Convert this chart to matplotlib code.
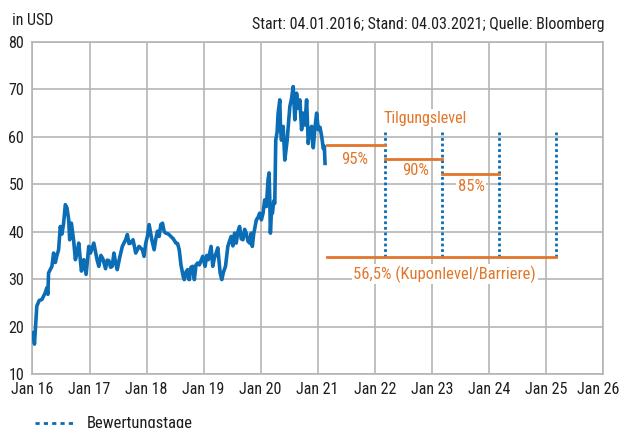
import matplotlib.pyplot as plt
from matplotlib.transforms import ScaledTranslation
# Import modules.

plt.rcParams['font.family'] = ['Roboto Condensed', 'Archivo Narrow', 'DejaVu Sans']

years = [2016.01, 2016.035, 2016.076, 2016.118, 2016.165, 2016.223, 2016.253, 2016.270, 2016.282, 2016.341,
         2016.370, 2016.400, 2016.429, 2016.458, 2016.488, 2016.517, 2016.546, 2016.576, 2016.605, 2016.635,
         2016.652, 2016.682, 2016.723, 2016.752, 2016.781, 2016.811, 2016.840, 2016.858, 2016.899, 2016.940,
         2016.987, 2017.016, 2017.075, 2017.105, 2017.134, 2017.163, 2017.199, 2017.234, 2017.281, 2017.310,
         2017.340, 2017.369, 2017.398, 2017.428, 2017.457, 2017.486, 2017.528, 2017.575, 2017.633, 2017.663,
         2017.692, 2017.721, 2017.763, 2017.810, 2017.868, 2017.927, 2017.956, 2017.986, 2018.015, 2018.045,
         2018.074, 2018.092, 2018.133, 2018.162, 2018.191, 2018.221, 2018.250, 2018.280, 2018.309, 2018.338,
         2018.385, 2018.426, 2018.468, 2018.515, 2018.544, 2018.573, 2018.603, 2018.620, 2018.644, 2018.661,
         2018.691, 2018.720, 2018.738, 2018.750, 2018.779, 2018.808, 2018.838, 2018.867, 2018.896, 2018.926,
         2018.985, 2019.026, 2019.055, 2019.084, 2019.131, 2019.161, 2019.190, 2019.220, 2019.249, 2019.278,
         2019.290, 2019.319, 2019.349, 2019.384, 2019.425, 2019.454, 2019.484, 2019.513, 2019.543, 2019.572,
         2019.601, 2019.631, 2019.660, 2019.690, 2019.719, 2019.748, 2019.778, 2019.807, 2019.836, 2019.854,
         2019.878, 2019.925, 2019.954, 2019.983, 2020.013, 2020.042, 2020.071, 2020.101, 2020.130, 2020.148,
         2020.160, 2020.171, 2020.189, 2020.207, 2020.230, 2020.248, 2020.265, 2020.289, 2020.306, 2020.336,
         2020.348, 2020.365, 2020.395, 2020.424, 2020.442, 2020.465, 2020.489, 2020.512, 2020.541, 2020.571,
         2020.600, 2020.630, 2020.659, 2020.688, 2020.718, 2020.747, 2020.776, 2020.806, 2020.835, 2020.865,
         2020.894, 2020.923, 2020.953, 2020.982, 2021.011, 2021.041, 2021.070, 2021.099, 2021.117, 2021.129]
prices = [18.7, 16.3, 24.3, 25.5, 25.7, 27.1, 28.2, 26.8, 31.3, 32.7,
          35.5, 33.5, 35.0, 36.2, 41.1, 39.5, 41.8, 45.7, 45.0, 42.5,
          38.3, 41.8, 38.0, 34.1, 35.5, 37.6, 34.0, 31.7, 34.1, 31.0,
          36.9, 35.5, 37.6, 35.8, 34.0, 32.7, 35.0, 34.3, 32.2, 34.0,
          33.9, 32.5, 32.7, 35.5, 33.5, 32.0, 34.5, 36.9, 38.3, 39.4,
          37.5, 37.6, 38.3, 35.5, 36.9, 36.2, 34.8, 37.6, 39.0, 41.5,
          39.5, 38.3, 36.2, 38.5, 40.1, 39.0, 41.5, 41.8, 40.0, 39.7,
          39.5, 39.0, 38.5, 37.6, 37.5, 36.2, 33.0, 32.0, 30.5, 29.9,
          31.5, 32.0, 30.0, 29.9, 32.5, 32.7, 29.9, 33.0, 33.4, 33.0,
          34.8, 32.7, 35.0, 34.1, 36.9, 32.7, 34.5, 35.5, 36.6, 33.0,
          31.3, 29.9, 31.5, 32.7, 36.9, 38.0, 39.0, 37.0, 39.7, 37.6,
          40.0, 41.1, 38.5, 38.3, 40.5, 39.7, 38.0, 37.6, 39.7, 36.9,
          39.5, 42.5, 43.0, 43.9, 42.5, 43.9, 46.7, 45.3, 51.0, 52.4,
          47.0, 39.7, 44.0, 43.9, 46.5, 46.0, 59.3, 61.0, 64.9, 67.8,
          62.0, 59.3, 62.2, 55.1, 57.0, 59.3, 63.0, 66.4, 68.0, 70.6,
          63.6, 69.2, 66.0, 67.8, 61.5, 65.0, 62.5, 67.8, 58.6, 61.5,
          62.2, 57.7, 62.0, 65.0, 61.5, 62.0, 60.1, 57.5, 58.0, 54.4]
# Share price in USD.

initial_level = 61.4
redemption_levels = [0.95, 0.90, 0.85]
redemption_labels = ['95%', '90%', '85%']
barrier_level = 0.565
valuation_dates = [2021.17, 2022.18, 2023.18, 2024.18, 2025.18]
# Product levels and Bewertungstage.

year_ticks = list(range(2016, 2027))
year_labels = ['Jan %d' % (y - 2000) for y in year_ticks]
# x axis labels.

blue = '#0a6db5'
orange = '#e2762b'
grid = '#b5b5b5'
dark = '#1e1e1e'

fig = plt.figure(figsize = (6.21, 4.28), dpi = 100)
ax = fig.add_axes([0.0523, 0.1262, 0.9185, 0.7757])

ax.plot(years, prices, color = blue, linewidth = 2.6, zorder = 3)
# Plot share price.

for i in range(3):
    ax.plot([valuation_dates[i], valuation_dates[i + 1]],
            [initial_level * redemption_levels[i]] * 2, color = orange, linewidth = 2, zorder = 4)
ax.plot([valuation_dates[0], valuation_dates[-1]], [initial_level * barrier_level] * 2,
        color = orange, linewidth = 2, zorder = 4)
for d in valuation_dates[1:]:
    ax.plot([d, d], [initial_level * barrier_level, initial_level], color = blue, linewidth = 2,
            linestyle = (0, (1, 1)), zorder = 3)
# Plot levels and valuation dates.

box = dict(facecolor = 'white', edgecolor = 'none', pad = 1)
label_pos = [(2021.65, 55.3), (2022.71, 53.0), (2023.69, 49.6)]
for (x, y), t in zip(label_pos, redemption_labels):
    ax.text(x, y, t, color = orange, fontsize = 12, ha = 'center', va = 'center', bbox = box, zorder = 5)
ax.text(2022.88, 63.9, 'Tilgungslevel', color = orange, fontsize = 11.5, ha = 'center', va = 'center',
        bbox = box, zorder = 5)
ax.text(2023.23, 31.0, '56,5% (Kuponlevel/Barriere)', color = orange, fontsize = 12, ha = 'center',
        va = 'center', bbox = box, zorder = 5)
# Labels.

ax.set_xlim(2016, 2026)
ax.set_ylim(10, 80)
ax.set_xticks(year_ticks)
ax.set_xticklabels(year_labels)
ax.set_yticks(range(10, 81, 10))
ax.tick_params(length = 0, labelsize = 11.5, colors = dark)
ax.tick_params(axis = 'x', pad = 6)
ax.tick_params(axis = 'y', pad = 6)
ax.grid(True, color = grid, linewidth = 1.2)
ax.set_axisbelow(True)
for s in ax.spines.values():
    s.set_color(grid)
    s.set_linewidth(1.2)
last = ax.get_xticklabels()[-1]
last.set_transform(last.get_transform() + ScaledTranslation(-0.05, 0, fig.dpi_scale_trans))
# Axis styling.

fig.text(11.5 / 621, 1 - 20.5 / 428, 'in USD', fontsize = 11.5, va = 'center', color = dark)
fig.text(605 / 621, 1 - 24 / 428, 'Start: 04.01.2016; Stand: 04.03.2021; Quelle: Bloomberg', fontsize = 11.5,
         va = 'center', ha = 'right', color = dark)
fig.add_artist(plt.Line2D([35 / 621, 73 / 621], [1 - 423 / 428] * 2, color = blue, linewidth = 2,
                          linestyle = (0, (1.5, 1.5))))
fig.text(87 / 621, 0.0, 'Bewertungstage', fontsize = 12, va = 'baseline', color = dark)
# Header and legend.

plt.savefig('out.png', dpi = 100)
